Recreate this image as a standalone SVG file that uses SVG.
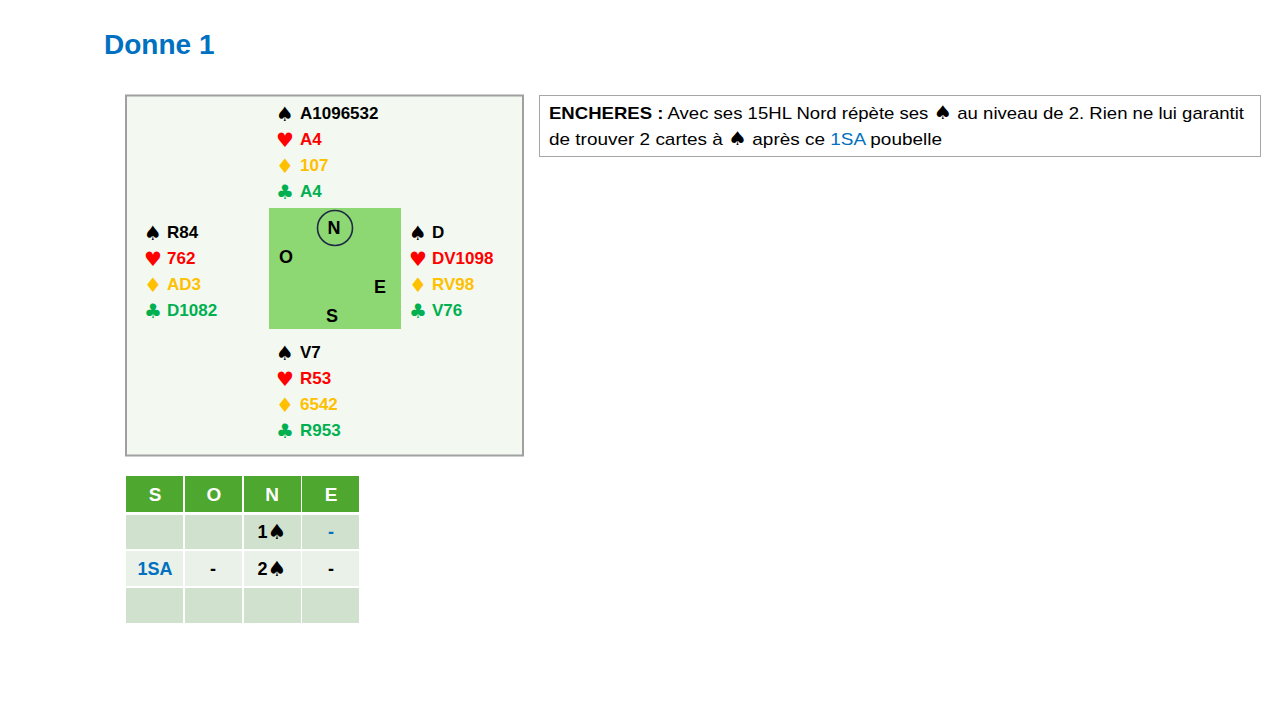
<svg xmlns="http://www.w3.org/2000/svg" width="1280" height="720" viewBox="0 0 1280 720">
<style>
.t{font-family:"Liberation Sans",Arial,sans-serif;font-weight:bold;font-size:17px;dominant-baseline:central}
.s{font-family:"DejaVu Sans",sans-serif;font-size:20px;dominant-baseline:central;text-anchor:middle}
.k{fill:#000}.r{fill:#FF0000}.y{fill:#FFC000}.g{fill:#00B050}
.h{font-family:"Liberation Sans",Arial,sans-serif;font-weight:bold;font-size:19px;fill:#fff;text-anchor:middle;dominant-baseline:central}
.c{font-family:"Liberation Sans",Arial,sans-serif;font-weight:bold;font-size:18px;fill:#000;text-anchor:middle;dominant-baseline:central}
.b{fill:#0070C0}
.d{font-family:"Liberation Sans",Arial,sans-serif;font-size:17px;fill:#000}
.sp{font-family:"DejaVu Sans",sans-serif;font-size:21px}
</style>
<rect width="1280" height="720" fill="#fff"/>
<text x="104" y="54" style="font-family:'Liberation Sans',Arial,sans-serif;font-weight:bold;font-size:28px;fill:#0070C0">Donne 1</text>

<g id="board">
<rect x="126" y="95.5" width="397" height="360" fill="#F3F9F1" stroke="#A0A0A0" stroke-width="2"/>
<rect x="269" y="208" width="132" height="121" fill="#8ED873"/>
<circle cx="335" cy="228" r="17.5" fill="none" stroke="#1F2A44" stroke-width="1.6"/>
<text class="c" x="334" y="228">N</text>
<text class="c" x="286" y="257">O</text>
<text class="c" x="380" y="287">E</text>
<text class="c" x="332" y="316">S</text>
</g>

<g id="north">
<text class="s k" x="285" y="114">♠</text><text class="t k" x="300" y="113">A1096532</text>
<text class="s r" x="285" y="140">♥</text><text class="t r" x="300" y="139">A4</text>
<text class="s y" x="285" y="166">♦</text><text class="t y" x="300" y="165">107</text>
<text class="s g" x="285" y="192">♣</text><text class="t g" x="300" y="191">A4</text>
</g>
<g id="west">
<text class="s k" x="153" y="233">♠</text><text class="t k" x="167" y="232">R84</text>
<text class="s r" x="153" y="259">♥</text><text class="t r" x="167" y="258">762</text>
<text class="s y" x="153" y="285">♦</text><text class="t y" x="167" y="284">AD3</text>
<text class="s g" x="153" y="311">♣</text><text class="t g" x="167" y="310">D1082</text>
</g>
<g id="east">
<text class="s k" x="418" y="233">♠</text><text class="t k" x="432" y="232">D</text>
<text class="s r" x="418" y="259">♥</text><text class="t r" x="432" y="258">DV1098</text>
<text class="s y" x="418" y="285">♦</text><text class="t y" x="432" y="284">RV98</text>
<text class="s g" x="418" y="311">♣</text><text class="t g" x="432" y="310">V76</text>
</g>
<g id="south">
<text class="s k" x="285" y="353">♠</text><text class="t k" x="300" y="352">V7</text>
<text class="s r" x="285" y="379">♥</text><text class="t r" x="300" y="378">R53</text>
<text class="s y" x="285" y="405">♦</text><text class="t y" x="300" y="404">6542</text>
<text class="s g" x="285" y="431">♣</text><text class="t g" x="300" y="430">R953</text>
</g>

<g id="bidding">
<rect x="126" y="476" width="57" height="36" fill="#4EA72E"/>
<rect x="185" y="476" width="57" height="36" fill="#4EA72E"/>
<rect x="244" y="476" width="57" height="36" fill="#4EA72E"/>
<rect x="302" y="476" width="57" height="36" fill="#4EA72E"/>
<rect x="126" y="515" width="57" height="34" fill="#D0E2CD"/>
<rect x="185" y="515" width="57" height="34" fill="#D0E2CD"/>
<rect x="244" y="515" width="57" height="34" fill="#D0E2CD"/>
<rect x="302" y="515" width="57" height="34" fill="#D0E2CD"/>
<rect x="126" y="551" width="57" height="35" fill="#EAF1E8"/>
<rect x="185" y="551" width="57" height="35" fill="#EAF1E8"/>
<rect x="244" y="551" width="57" height="35" fill="#EAF1E8"/>
<rect x="302" y="551" width="57" height="35" fill="#EAF1E8"/>
<rect x="126" y="588" width="57" height="35" fill="#D0E2CD"/>
<rect x="185" y="588" width="57" height="35" fill="#D0E2CD"/>
<rect x="244" y="588" width="57" height="35" fill="#D0E2CD"/>
<rect x="302" y="588" width="57" height="35" fill="#D0E2CD"/>
<text class="h" x="155" y="494">S</text>
<text class="h" x="214" y="494">O</text>
<text class="h" x="272" y="494">N</text>
<text class="h" x="331" y="494">E</text>
<text class="c" x="272" y="532">1<tspan class="sp">♠</tspan></text>
<text class="c b" x="331" y="532">-</text>
<text class="c b" x="155" y="569">1SA</text>
<text class="c" x="213" y="569">-</text>
<text class="c" x="272" y="569">2<tspan class="sp">♠</tspan></text>
<text class="c" x="331" y="569">-</text>
</g>

<g id="note">
<rect x="539.5" y="95.5" width="721" height="61" fill="#fff" stroke="#A6A6A6" stroke-width="1"/>
<text class="d" x="549" y="119" textLength="695" lengthAdjust="spacingAndGlyphs"><tspan font-weight="bold">ENCHERES :</tspan> Avec ses 15HL Nord répète ses <tspan font-family="DejaVu Sans" font-size="19">♠</tspan> au niveau de 2. Rien ne lui garantit</text>
<text class="d" x="549" y="145" textLength="393" lengthAdjust="spacingAndGlyphs">de trouver 2 cartes à <tspan font-family="DejaVu Sans" font-size="19">♠</tspan> après ce <tspan fill="#0070C0">1SA</tspan> poubelle</text>
</g>
</svg>
